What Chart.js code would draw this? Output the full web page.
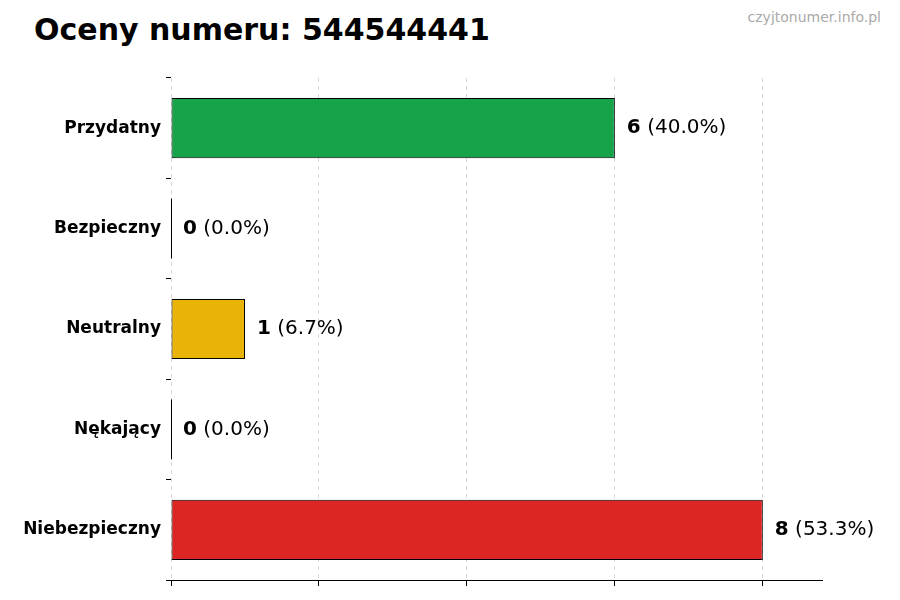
<!DOCTYPE html>
<html>
<head>
<meta charset="utf-8">
<script src="https://cdn.jsdelivr.net/npm/chart.js@4"></script>
<style>
  body { margin: 0; background: #fff; }
  #wrap { position: relative; width: 900px; height: 600px; }
  h1 { position: absolute; left: 34px; top: 12px; margin: 0; font: bold 30px "DejaVu Sans", sans-serif; color: #000; }
  #src { position: absolute; right: 19px; top: 9px; font: 14px "DejaVu Sans", sans-serif; color: #aaa; }
  canvas { position: absolute; left: 0; top: 0; }
</style>
</head>
<body>
<div id="wrap">
  <h1>Oceny numeru: 544544441</h1>
  <div id="src">czyjtonumer.info.pl</div>
  <canvas id="chart" width="900" height="600"></canvas>
</div>
<script>
const categories = ['Przydatny', 'Bezpieczny', 'Neutralny', 'Nękający', 'Niebezpieczny'];
const counts = [6, 0, 1, 0, 8];
const barColors = ['#16a34a', '#16a34a', '#eab308', '#dc2626', '#dc2626'];

const total = counts.reduce((a, b) => a + b, 0);

// value labels to the right of each bar
const valueLabels = {
    id: 'valueLabels',
    afterDatasetsDraw(chart) {
        const ctx = chart.ctx;
        const meta = chart.getDatasetMeta(0);
        ctx.save();
        ctx.textBaseline = 'middle';
        meta.data.forEach((bar, i) => {
            if (counts[i] === 0) {
                // thin outline for empty bars
                ctx.strokeStyle = '#000';
                ctx.lineWidth = 1;
                ctx.beginPath();
                ctx.moveTo(bar.x + 0.5, bar.y - 30);
                ctx.lineTo(bar.x + 0.5, bar.y + 30);
                ctx.stroke();
            }
            const x = bar.x + 12;
            const y = bar.y;
            ctx.font = 'bold 20px "DejaVu Sans"';
            ctx.fillStyle = '#000';
            const n = String(counts[i]);
            ctx.fillText(n, x, y);
            const w = ctx.measureText(n).width;
            ctx.font = '20px "DejaVu Sans"';
            ctx.fillText(' (' + (counts[i] / total * 100).toFixed(1) + '%)', x + w, y);
        });
        ctx.restore();
    }
};

new Chart(document.getElementById('chart'), {
    type: 'bar',
    data: {
        labels: categories,
        datasets: [{
            data: counts,
            backgroundColor: barColors,
            borderColor: '#000',
            borderWidth: 1,
            borderSkipped: false,
            barPercentage: 0.6,
            categoryPercentage: 1.0
        }]
    },
    options: {
        indexAxis: 'y',
        responsive: false,
        animation: false,
        layout: { padding: { top: 78, right: 78, bottom: 14, left: 0 } },
        plugins: { legend: { display: false }, tooltip: { enabled: false } },
        scales: {
            x: {
                min: 0, max: 8.8,
                ticks: { stepSize: 2, display: false },
                afterBuildTicks(axis) { axis.ticks = [0, 2, 4, 6, 8].map(v => ({ value: v })); },
                grid: { color: '#d8d8d8', tickColor: '#000', tickLength: 6, drawTicks: true },
                border: { display: true, color: '#000', dash: [4, 4] }
            },
            y: {
                afterFit(axis) { axis.width = 171; },
                grid: { drawOnChartArea: false, drawTicks: true, tickColor: '#000', tickLength: 5 },
                border: { display: false },
                ticks: { color: '#000', padding: 5, font: { family: 'DejaVu Sans', size: 17, weight: 'bold' } }
            }
        }
    },
    plugins: [valueLabels]
});
</script>
</body>
</html>
